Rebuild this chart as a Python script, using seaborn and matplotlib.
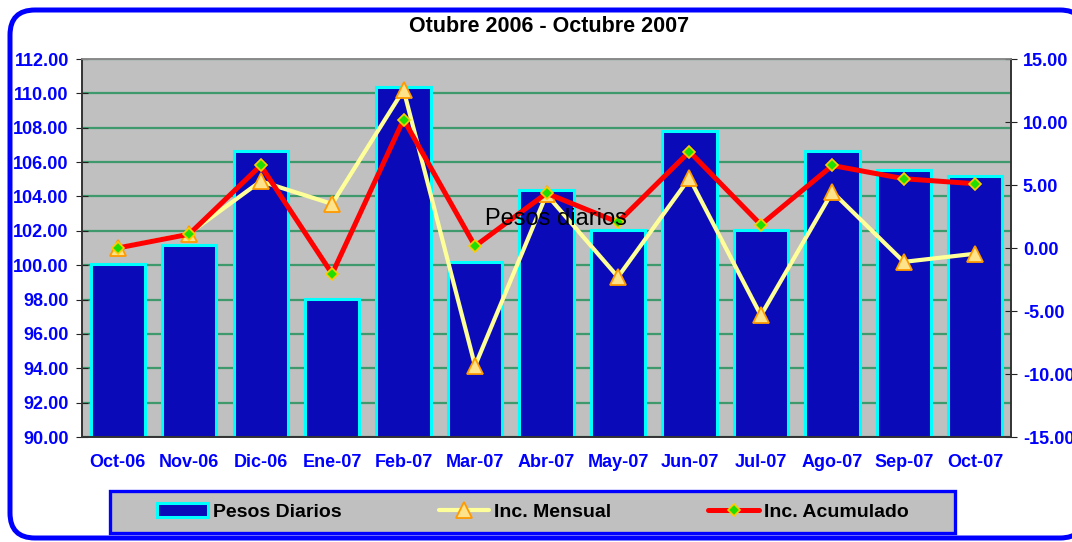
import numpy as np
import pandas as pd
import seaborn as sns
import matplotlib.pyplot as plt
from matplotlib.patches import FancyBboxPatch, Rectangle, Patch
from matplotlib.lines import Line2D
from matplotlib.ticker import StrMethodFormatter

# datos
meses = ["Oct-06", "Nov-06", "Dic-06", "Ene-07", "Feb-07", "Mar-07", "Abr-07",
         "May-07", "Jun-07", "Jul-07", "Ago-07", "Sep-07", "Oct-07"]
pesos_diarios = [100.05, 101.20, 106.65, 98.05, 110.40, 100.20, 104.40,
                 102.05, 107.80, 102.05, 106.65, 105.55, 105.20]
inc_mensual = [0.00, 1.15, 5.30, 3.50, 12.55, -9.35, 4.25,
               -2.30, 5.55, -5.35, 4.45, -1.10, -0.45]
inc_acumulado = [0.00, 1.10, 6.55, -2.05, 10.20, 0.15, 4.35,
                 2.05, 7.65, 1.85, 6.55, 5.50, 5.10]

df = pd.DataFrame({"Mes": meses, "Pesos": pesos_diarios,
                   "Mensual": inc_mensual, "Acumulado": inc_acumulado})

sns.set_style("white")
plt.rcParams['font.family'] = ['Liberation Sans', 'DejaVu Sans']
plt.rcParams['text.color'] = 'black'
plt.rcParams['axes.unicode_minus'] = False

azul = "#0000FF"
fig = plt.figure(figsize=(10.72, 5.42), dpi=100)

# marco azul redondeado de todo el grafico
fig.add_artist(FancyBboxPatch((0.10, 0.04), 10.75, 5.28,
                              boxstyle="round,pad=0,rounding_size=0.25",
                              transform=fig.dpi_scale_trans,
                              facecolor="white", edgecolor=azul, linewidth=3.6,
                              zorder=-5))

ax = fig.add_axes([0.0765, 0.1937, 0.8666, 0.6974])
ax.set_facecolor("#C0C0C0")

sns.barplot(data=df, x="Mes", y="Pesos", ax=ax, color="#0A0AB8", saturation=1,
            edgecolor="#00FFFF", linewidth=2.2, width=0.76)

ax.set_ylim(90, 112)
ax.set_yticks(np.arange(90, 113, 2))
ax.yaxis.set_major_formatter(StrMethodFormatter("{x:.2f}"))
ax.set_axisbelow(True)
ax.yaxis.grid(True, color="#3E9A6C", linewidth=1.6)
ax.set_xlabel("")
ax.set_ylabel("")

ax2 = ax.twinx()
pos = np.arange(len(meses))
sns.lineplot(x=pos, y=df["Mensual"], ax=ax2, sort=False, color="#FFFF99",
             linewidth=3, marker="^", markersize=11, markerfacecolor="#FFE38A",
             markeredgecolor="#FF9900", markeredgewidth=1.3, legend=False)
sns.lineplot(x=pos, y=df["Acumulado"], ax=ax2, sort=False, color="#FF0000",
             linewidth=3.6, marker="D", markersize=6.5, markerfacecolor="#22DD00",
             markeredgecolor="#FFCC00", markeredgewidth=1.2, legend=False)
ax2.set_ylim(-15, 15)
ax2.set_yticks(np.arange(-15, 16, 5))
ax2.yaxis.set_major_formatter(StrMethodFormatter("{x:.2f}"))
ax2.set_ylabel("")
ax.set_xlim(-0.5, len(meses) - 0.5)

fuente = dict(fontsize=13, fontweight="bold", color=azul)
ax.set_xticks(pos)
ax.set_xticklabels(meses, **fuente)
ax.set_xticks(np.arange(-0.5, len(meses), 1), minor=True)
ax.tick_params(axis="x", which="major", length=0, pad=12)
ax.tick_params(axis="x", which="minor", direction="out", length=6, color="#222222")
ax.tick_params(axis="y", direction="inout", length=9, color="#222222", pad=5)
ax2.tick_params(axis="y", direction="inout", length=9, color="#222222", pad=4)
for lab in ax.get_yticklabels() + ax2.get_yticklabels():
    lab.set_fontsize(13)
    lab.set_fontweight("bold")
    lab.set_color(azul)

for a in (ax, ax2):
    for s in a.spines.values():
        s.set_color("#333333")
        s.set_linewidth(1.2)
    a.spines["top"].set_color("#8A8A8A")

fig.text(549 / 1072, 1 - 27 / 542, "Otubre 2006 - Octubre 2007",
         ha="center", va="center", fontsize=15.5, fontweight="bold", color="black")
fig.text(556 / 1072, 1 - 219 / 542, "Pesos diarios",
         ha="center", va="center", fontsize=17, color="black")

# caja de la leyenda
fig.add_artist(Rectangle((1.10, 0.09), 8.45, 0.42, transform=fig.dpi_scale_trans,
                         facecolor="#C0C0C0", edgecolor=azul, linewidth=2.4))
handles = [Patch(facecolor="#0A0AB8", edgecolor="#00FFFF", linewidth=2.2),
           Line2D([], [], color="#FFFF99", linewidth=3, marker="^", markersize=11,
                  markerfacecolor="#FFE38A", markeredgecolor="#FF9900",
                  markeredgewidth=1.3),
           Line2D([], [], color="#FF0000", linewidth=3.6, marker="D", markersize=6.5,
                  markerfacecolor="#22DD00", markeredgecolor="#FFCC00",
                  markeredgewidth=1.2)]
leg = fig.legend(handles, ["Pesos Diarios", "Inc. Mensual", "Inc. Acumulado"],
                 loc="center", bbox_to_anchor=(533 / 1072, 1 - 512 / 542), ncol=3,
                 frameon=False, handlelength=2.6, handletextpad=0.25, columnspacing=5.0,
                 prop={"size": 14, "weight": "bold"})
for t in leg.get_texts():
    t.set_color("black")

fig.savefig("out.png", dpi=100)
